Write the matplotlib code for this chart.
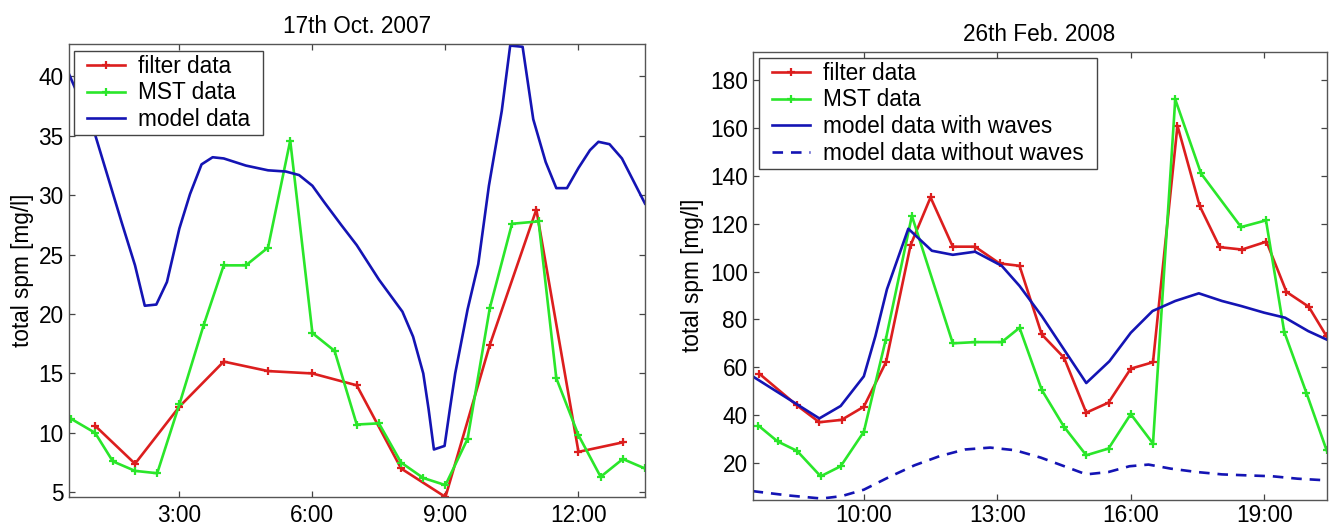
import matplotlib
matplotlib.use("Agg")
import matplotlib.pyplot as plt
from matplotlib.ticker import FixedLocator
from matplotlib.path import Path

plt.rcParams['font.family'] = ['Liberation Sans', 'DejaVu Sans']
FS = 16.3
plt.rcParams['font.size'] = FS

# ---------------- Left panel: 17th Oct. 2007 ----------------
oct_filter_t = [1.1, 2, 3, 4, 5, 6, 7, 8, 9, 10, 11.05, 12, 13]
oct_filter_v = [10.6, 7.4, 12.2, 16.0, 15.2, 15.0, 14.0, 7.0, 4.6, 17.4, 28.8, 8.4, 9.2]

oct_mst_t = [0.55, 1.1, 1.5, 2, 2.5, 3, 3.55, 4, 4.5, 5, 5.5, 6, 6.5, 7, 7.5,
             8, 8.5, 9, 9.5, 10, 10.5, 11.1, 11.5, 12, 12.5, 13, 13.5]
oct_mst_v = [11.2, 10.0, 7.6, 6.8, 6.6, 12.4, 19.1, 24.1, 24.1, 25.6, 34.6, 18.4,
             16.9, 10.7, 10.8, 7.5, 6.2, 5.6, 9.5, 20.5, 27.6, 27.8, 14.6, 9.8,
             6.3, 7.8, 7.0]

oct_model_t = [0.5, 1.1, 1.7, 2.0, 2.22, 2.48, 2.72, 3.0, 3.24, 3.5, 3.75, 4.0,
               4.5, 5.0, 5.4, 5.7, 6.0, 6.27, 6.65, 7.0, 7.5, 8.03, 8.27, 8.5,
               8.62, 8.74, 8.98, 9.1, 9.22, 9.5, 9.74, 9.98, 10.27, 10.46, 10.74,
               10.98, 11.26, 11.5, 11.74, 12.0, 12.26, 12.45, 12.7, 12.98, 13.5]
oct_model_v = [40.3, 35.1, 27.7, 24.1, 20.7, 20.8, 22.7, 27.2, 30.1, 32.6, 33.2,
               33.1, 32.5, 32.1, 32.0, 31.7, 30.8, 29.4, 27.5, 25.8, 22.9, 20.2,
               18.1, 15.0, 12.0, 8.6, 8.9, 12.0, 15.0, 20.4, 24.2, 30.8, 37.1,
               42.6, 42.5, 36.4, 32.8, 30.6, 30.6, 32.3, 33.8, 34.5, 34.3, 33.1,
               29.3]

oct_xticks = [3, 6, 9, 12]
oct_xticklabels = ['3:00', '6:00', '9:00', '12:00']
oct_yticks = [5, 10, 15, 20, 25, 30, 35, 40]

# ---------------- Right panel: 26th Feb. 2008 ----------------
feb_filter_t = [7.65, 8.5, 9, 9.5, 10, 10.5, 11.05, 11.5, 12, 12.5, 13.05, 13.5,
                14, 14.5, 15, 15.5, 16, 16.5, 17.05, 17.55, 18, 18.5, 19.05,
                19.5, 20, 20.4]
feb_filter_v = [57.3, 44, 37, 38, 43.5, 62.2, 111, 131, 110.4, 110.4, 103.4, 102.4,
                73.7, 64, 41, 45.2, 59.4, 62.1, 161, 127.4, 110.2, 109.2, 112.5,
                91.5, 85.3, 73]

feb_mst_t = [7.63, 8.06, 8.5, 9.03, 9.48, 10, 10.49, 11.08, 12, 12.5, 13.1, 13.5,
             14, 14.5, 15, 15.5, 16, 16.5, 17.0, 17.58, 18.48, 19.04, 19.45,
             19.95, 20.4]
feb_mst_v = [35.6, 29, 25, 14.4, 18.6, 33.0, 71.3, 123.3, 70, 70.5, 70.5, 76.5,
             50.5, 35.1, 23.2, 26, 40.4, 28.1, 172, 141, 118.6, 121.4, 74.8,
             49.2, 25.4]

feb_model_t = [7.5, 9.0, 9.48, 10, 10.26, 10.52, 11.0, 11.53, 12.0, 12.5, 13.1,
               13.5, 14.0, 14.5, 15.0, 15.52, 16, 16.49, 17.0, 17.53, 18.05,
               18.48, 19.0, 19.47, 19.99, 20.4]
feb_model_v = [56.2, 38.6, 43.8, 56.2, 73, 92.6, 117.9, 108.7, 107, 108.3, 102.4,
               94, 81.4, 67.4, 53.4, 62.5, 74.4, 83.5, 87.7, 90.9, 87.7, 85.6,
               82.8, 80.7, 75.1, 71.6]

feb_nowave_t = [7.5, 8.3, 9.05, 9.5, 10, 10.57, 11.14, 11.7, 12.27, 12.84, 13.4,
                13.98, 14.55, 15.0, 15.5, 15.97, 16.4, 16.9, 17.48, 18.05, 18.6,
                19.19, 19.75, 20.4]
feb_nowave_v = [8.2, 6.4, 5.1, 6.1, 8.8, 14.1, 19, 22.8, 25.6, 26.4, 25.3, 22.2,
                18.3, 15.2, 16.2, 18.6, 19.3, 17.6, 16.2, 15.2, 14.8, 14.4,
                13.4, 12.7]

feb_xticks = [10, 13, 16, 19]
feb_xticklabels = ['10:00', '13:00', '16:00', '19:00']
feb_yticks = [20, 40, 60, 80, 100, 120, 140, 160, 180]

RED = '#dc1e1e'
GREEN = '#2ae62a'
BLUE = '#1414b4'
LW = 1.9
EXTRA = 9.0  # extra horizontal legend padding in pixels


def wide_box(x0, y0, width, height, mutation_size):
    x0 = x0 - EXTRA
    width = width + 2 * EXTRA
    return Path([(x0, y0), (x0 + width, y0), (x0 + width, y0 + height),
                 (x0, y0 + height), (x0, y0)], closed=True)


fig = plt.figure(figsize=(13.29, 5.26), dpi=100)
ax1 = fig.add_axes([68.5 / 1329, 1 - 497 / 526, (645 - 68.5) / 1329, (497 - 44.4) / 526])
ax2 = fig.add_axes([752.6 / 1329, 1 - 499.5 / 526, (1326.5 - 752.6) / 1329, (499.5 - 51.5) / 526])

mk = dict(marker='+', markersize=6, markeredgewidth=1.6)

ax1.plot(oct_filter_t, oct_filter_v, color=RED, lw=LW, label='filter data', **mk)
ax1.plot(oct_mst_t, oct_mst_v, color=GREEN, lw=LW, label='MST data', **mk)
ax1.plot(oct_model_t, oct_model_v, color=BLUE, lw=LW, label='model data')
ax1.set_xlim(0.5, 13.5)
ax1.set_ylim(4.6, 42.7)
ax1.xaxis.set_major_locator(FixedLocator(oct_xticks))
ax1.set_xticklabels(oct_xticklabels)
ax1.yaxis.set_major_locator(FixedLocator(oct_yticks))
ax1.set_title('17th Oct. 2007', fontsize=FS, pad=8.5)
ax1.set_ylabel('total spm [mg/l]', labelpad=3)

ax2.plot(feb_filter_t, feb_filter_v, color=RED, lw=LW, label='filter data', **mk)
ax2.plot(feb_mst_t, feb_mst_v, color=GREEN, lw=LW, label='MST data', **mk)
ax2.plot(feb_model_t, feb_model_v, color=BLUE, lw=LW, label='model data with waves')
ax2.plot(feb_nowave_t, feb_nowave_v, color=BLUE, lw=LW, linestyle=(0, (4, 3)),
         label='model data without waves')
ax2.set_xlim(7.5, 20.4)
ax2.set_ylim(4.7, 192)
ax2.xaxis.set_major_locator(FixedLocator(feb_xticks))
ax2.set_xticklabels(feb_xticklabels)
ax2.yaxis.set_major_locator(FixedLocator(feb_yticks))
ax2.set_title('26th Feb. 2008', fontsize=FS, pad=7.5)
ax2.set_ylabel('total spm [mg/l]', labelpad=4)

anchors = {ax1: (0.0252, 0.9854), ax2: (0.0268, 0.9855)}
xpads = {ax1: 5, ax2: 3.2}
for ax in (ax1, ax2):
    ax.tick_params(direction='in', length=4, width=0.9, top=True, right=True,
                   color='#444444', labelsize=FS)
    ax.tick_params(axis='x', pad=xpads[ax])
    ax.tick_params(axis='y', pad=3.5)
    for s in ax.spines.values():
        s.set_color('#555555')
        s.set_linewidth(1.0)
    leg = ax.legend(loc='upper left', bbox_to_anchor=anchors[ax], borderaxespad=0,
                    fancybox=False, framealpha=1, edgecolor='#444444',
                    handlelength=1.68, handletextpad=0.58, labelspacing=0.16,
                    borderpad=0.17, fontsize=FS)
    leg.get_frame().set_linewidth(1.0)
    leg.get_frame().set_boxstyle(wide_box)

fig.savefig('out.png', dpi=100)
